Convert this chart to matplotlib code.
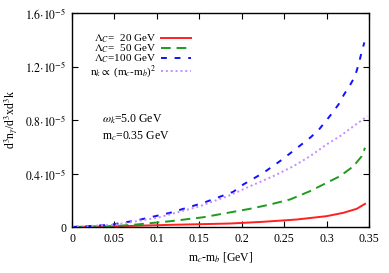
import matplotlib
matplotlib.use("Agg")
import matplotlib.pyplot as plt

# Curves (y in units of 1e-5)
x_blue = [0.0, 0.045, 0.076, 0.1155, 0.155, 0.19, 0.2019, 0.2255, 0.245, 0.2628,
          0.2813, 0.2911, 0.299, 0.3068, 0.3146, 0.3205, 0.3276, 0.3335, 0.3374, 0.3406, 0.3445]
y_blue = [0.0, 0.016, 0.049, 0.106, 0.181, 0.263, 0.318, 0.405, 0.492, 0.579,
          0.671, 0.729, 0.791, 0.853, 0.921, 0.990, 1.060, 1.127, 1.209, 1.289, 1.38]

x_green = [0.0, 0.0487, 0.0762, 0.1155, 0.1548, 0.194, 0.2098, 0.2333, 0.257, 0.2805,
           0.300, 0.3158, 0.3316, 0.3414, 0.3453]
y_green = [0.0, 0.006, 0.019, 0.043, 0.073, 0.118, 0.136, 0.168, 0.206, 0.268,
           0.330, 0.380, 0.454, 0.529, 0.592]

x_red = [0.0, 0.0565, 0.1155, 0.186, 0.2255, 0.2648, 0.300, 0.3197, 0.3355, 0.3453]
y_red = [0.0, 0.006, 0.016, 0.026, 0.039, 0.056, 0.081, 0.106, 0.136, 0.173]

x_purple = [0.0, 0.05, 0.1, 0.15, 0.186, 0.2098, 0.2372, 0.2608, 0.2805, 0.300,
            0.3158, 0.3316, 0.348]
y_purple = [0.0, 0.017, 0.068, 0.154, 0.237, 0.305, 0.380, 0.454, 0.529, 0.617,
            0.679, 0.753, 0.828]

xticks = [0, 0.05, 0.1, 0.15, 0.2, 0.25, 0.3, 0.35]
xtick_labels = ["0", "0.05", "0.1", "0.15", "0.2", "0.25", "0.3", "0.35"]
yticks = [0, 0.4, 0.8, 1.2, 1.6]
ytick_labels = ["0", r"$0.4{\cdot}10^{-5}$", r"$0.8{\cdot}10^{-5}$",
                r"$1.2{\cdot}10^{-5}$", r"$1.6{\cdot}10^{-5}$"]

fs = 8.5
plt.rcParams["font.family"] = ["Liberation Serif", "DejaVu Serif"]
plt.rcParams["mathtext.fontset"] = "stix"
plt.rcParams["font.size"] = fs

fig = plt.figure(figsize=(3.89, 2.73), dpi=100)
ax = fig.add_axes([72 / 389, 1 - 227 / 273, 297 / 389, 214 / 273])

ax.plot(x_red, y_red, color="#ff2020", lw=1.4, label=r"$\Lambda_C$=  20 GeV")
ax.plot(x_green, y_green, color="#1f9a1f", lw=1.4, dashes=(5, 3),
        label=r"$\Lambda_C$=  50 GeV")
ax.plot(x_blue, y_blue, color="#1010ff", lw=1.4, dashes=(3, 4),
        label=r"$\Lambda_C$=100 GeV")
ax.plot(x_purple, y_purple, color="#c38cff", lw=1.4, dashes=(1, 1.5),
        label=r"n$_k\propto$ (m$_c$-m$_b$)$^2$")

ax.set_xlim(0, 0.35)
ax.set_ylim(0, 1.6)
ax.set_xticks(xticks)
ax.set_xticklabels(xtick_labels)
ax.set_yticks(yticks)
ax.set_yticklabels(ytick_labels)
ax.tick_params(direction="in", length=4, width=0.8, top=True, right=True,
               labelsize=fs, pad=4)
for s in ax.spines.values():
    s.set_linewidth(1.0)

ax.set_xlabel(r"m$_c$-m$_b$ [GeV]", fontsize=fs, labelpad=4)
ax.set_ylabel(r"d$^3$n$_\gamma$/d$^3$xd$^3$k", fontsize=fs, labelpad=3)

ax.legend(loc="upper left", bbox_to_anchor=(0.045, 0.93), frameon=False,
          markerfirst=False, handlelength=2.7, handletextpad=0.4,
          labelspacing=-0.2, fontsize=8, borderaxespad=0)

ax.text(0.1, 0.505, r"$\omega_k$=5.0 GeV", transform=ax.transAxes, fontsize=fs,
        va="center")
ax.text(0.1, 0.425, r"m$_c$=0.35 GeV", transform=ax.transAxes, fontsize=fs,
        va="center")

fig.savefig("out.png", dpi=100)
